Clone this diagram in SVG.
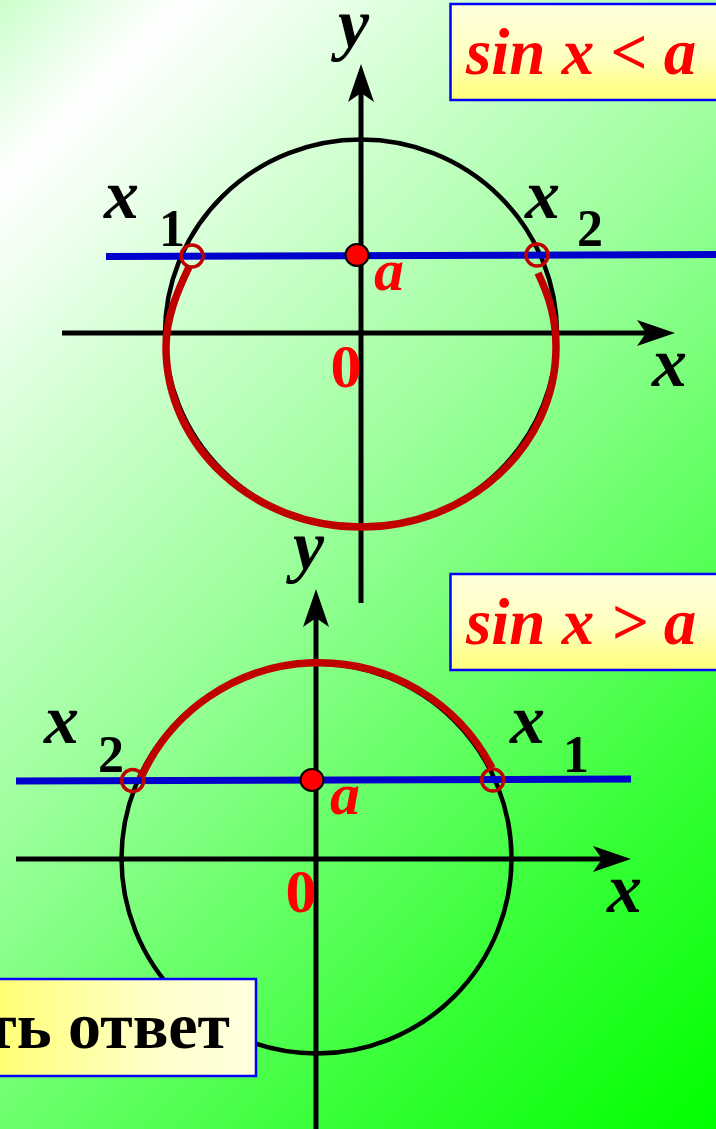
<svg xmlns="http://www.w3.org/2000/svg" xmlns:xlink="http://www.w3.org/1999/xlink" width="716" height="1129" viewBox="0 0 716 1129">
<defs>
<linearGradient id="bg" gradientUnits="userSpaceOnUse" x1="0" y1="0" x2="922" y2="922">
<stop offset="0" stop-color="#ccffcc"/>
<stop offset="0.1" stop-color="#ffffff"/>
<stop offset="0.5" stop-color="#90ff90"/>
<stop offset="0.8" stop-color="#33ff33"/>
<stop offset="1" stop-color="#00ff00"/>
</linearGradient>
<linearGradient id="boxV" x1="0" y1="0" x2="0" y2="1">
<stop offset="0" stop-color="#ffffdc"/>
<stop offset="0.55" stop-color="#ffffc0"/>
<stop offset="1" stop-color="#ffff78"/>
</linearGradient>
<linearGradient id="boxH" x1="0" y1="0" x2="1" y2="0">
<stop offset="0" stop-color="#ffff70"/>
<stop offset="0.6" stop-color="#ffffc8"/>
<stop offset="1" stop-color="#ffffe0"/>
</linearGradient>
<path id="ah" d="M0,0 L-38,-13 L-29,0 L-38,13 Z" fill="#000"/>
<style>
.ax{stroke:#000;stroke-width:5;fill:none}
.circ{stroke:#000;stroke-width:4.5;fill:none}
.arc{stroke:#c00000;stroke-width:7.5;fill:none;stroke-linecap:butt}
.blue{stroke:#0000cc;stroke-width:7;fill:none}
.mk{stroke:#c00000;stroke-width:3.5;fill:none}
.dot{fill:#ff0000;stroke:#000;stroke-width:2}
.lbl{font-family:"Liberation Serif","Times New Roman",serif;font-weight:bold;font-style:italic;font-size:70px;fill:#000}
.sub{font-family:"Liberation Serif","Times New Roman",serif;font-weight:bold;font-size:52px;fill:#000}
.ra{font-family:"Liberation Serif","Times New Roman",serif;font-weight:bold;font-style:italic;font-size:60px;fill:#ff0000}
.zero{font-family:"Liberation Serif","Times New Roman",serif;font-weight:bold;font-size:62px;fill:#ff0000}
.box{stroke:#0000ff;stroke-width:2.5}
.title{font-family:"Liberation Serif","Times New Roman",serif;font-weight:bold;font-style:italic;font-size:65px;fill:#ff0000}
.ans{font-family:"Liberation Serif","Times New Roman",serif;font-weight:bold;font-size:66px;fill:#000}
</style>
</defs>
<rect x="0" y="0" width="716" height="1129" fill="url(#bg)"/>

<g id="diagram-top">
<ellipse class="circ" cx="361" cy="333.5" rx="196" ry="194"/>
<g id="axes-top">
<line class="ax" x1="62" y1="333" x2="650" y2="333"/>
<use xlink:href="#ah" transform="translate(675,333)"/>
<line class="ax" x1="361" y1="603" x2="361" y2="90"/>
<use xlink:href="#ah" transform="translate(361,64) rotate(-90)"/>
</g>
<path class="arc" d="M189,267 C177,292 166,318 166,347 C166,447 254,527 361,527 C468,527 556,447 556,347 C556,318 549,296 538,273"/>
<line class="blue" x1="106" y1="256.5" x2="716" y2="254.5"/>
<circle class="mk" cx="192" cy="256" r="11"/>
<circle class="mk" cx="537" cy="255" r="11"/>
<ellipse class="dot" cx="357" cy="255" rx="11.5" ry="11"/>
<text class="lbl" x="338" y="47">y</text>
<text class="lbl" x="652" y="386">x</text>
<text class="lbl" x="104" y="218">x</text>
<text class="sub" x="159" y="246">1</text>
<text class="lbl" x="525" y="218">x</text>
<text class="sub" x="577" y="246">2</text>
<text class="ra" x="374" y="290">a</text>
<text class="zero" x="346" y="387" text-anchor="middle">0</text>
</g>

<g id="box-top">
<rect class="box" x="450.5" y="4" width="280" height="96" fill="url(#boxV)"/>
<text class="title" x="466" y="74">sin x &lt; a</text>
</g>

<g id="diagram-bottom">
<circle class="circ" cx="316.5" cy="858.5" r="195"/>
<g id="axes-bottom">
<line class="ax" x1="16" y1="859" x2="605" y2="859"/>
<use xlink:href="#ah" transform="translate(631,859)"/>
<line class="ax" x1="316" y1="1129" x2="316" y2="615"/>
<use xlink:href="#ah" transform="translate(316,589) rotate(-90)"/>
</g>
<path class="arc" d="M140,780 A195,195 0 0 1 492,768"/>
<line class="blue" x1="16" y1="781" x2="631" y2="779"/>
<circle class="mk" cx="132.7" cy="780.5" r="11"/>
<circle class="mk" cx="492.7" cy="780" r="11"/>
<ellipse class="dot" cx="312" cy="780" rx="11.5" ry="11"/>
<text class="lbl" x="293" y="569">y</text>
<text class="lbl" x="607" y="912">x</text>
<text class="lbl" x="44" y="743">x</text>
<text class="sub" x="98" y="772">2</text>
<text class="lbl" x="510" y="743">x</text>
<text class="sub" x="563" y="772">1</text>
<text class="ra" x="330" y="814">a</text>
<text class="zero" x="301" y="912" text-anchor="middle">0</text>
</g>

<g id="box-mid">
<rect class="box" x="450.5" y="574" width="280" height="96" fill="url(#boxV)"/>
<text class="title" x="466" y="644">sin x &gt; a</text>
</g>

<g id="box-answer">
<rect class="box" x="-10" y="979" width="266" height="97" fill="url(#boxH)"/>
<text class="ans" x="230" y="1048" text-anchor="end">ть ответ</text>
</g>
</svg>
